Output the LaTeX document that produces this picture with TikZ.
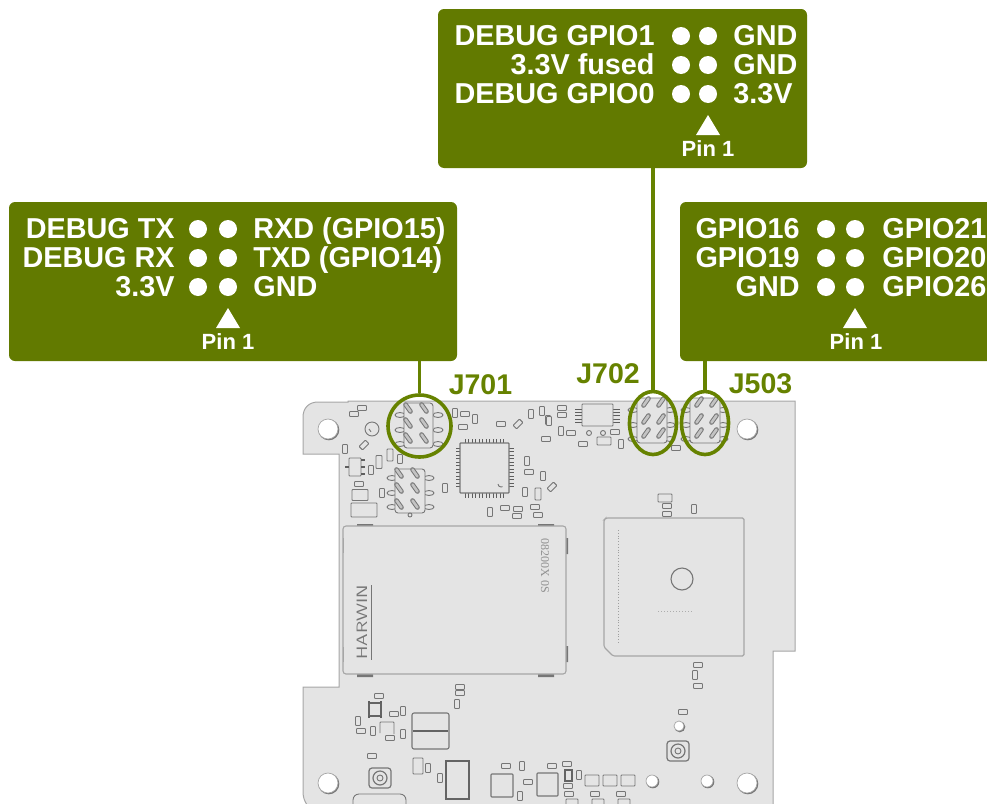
\documentclass[tikz,border=0pt]{standalone}
\usepackage{fontspec}
\setmainfont{Liberation Sans}
\newfontfamily\printserif{Liberation Serif}
\usepackage{xcolor}
\usetikzlibrary{positioning,shapes.geometric}
\definecolor{calloutgreen}{HTML}{627A00}
\definecolor{ringgreen}{HTML}{668200}
\definecolor{boardgray}{HTML}{E4E4E4}
\definecolor{edgegray}{HTML}{A6A6A6}
\definecolor{partgray}{HTML}{767676}

\begin{document}
\begin{tikzpicture}[
  x=1pt,y=-1pt,
  font=\bfseries\fontsize{28.8}{30}\selectfont,
  callout/.style={fill=calloutgreen,rounded corners=6pt,minimum height=159pt,inner sep=0pt},
  pindot/.style={circle,fill=white,minimum size=18pt,inner sep=0pt},
  pinlabel/.style={text=white,inner sep=0pt,text height=19.5pt,text depth=0pt},
  pinone/.style={text=white,inner sep=0pt,font=\bfseries\fontsize{22}{24}\selectfont},
  ring/.style={draw=ringgreen,line width=3.6pt,ellipse,inner sep=0pt},
  lead/.style={draw=ringgreen,line width=3.6pt},
  jname/.style={text=ringgreen,inner sep=0pt,font=\bfseries\fontsize{28.5}{30}\selectfont},
  board/.style={fill=boardgray,draw=edgegray,line width=1pt},
  part/.style={draw=partgray,line width=.9pt,fill=boardgray,rounded corners=.8pt},
  thickpart/.style={draw=partgray!85!black,line width=1.8pt},
  headpin/.style={draw=partgray,double=boardgray!70!partgray,double distance=2.6pt,line width=1pt,line cap=round},
  legpin/.style={draw=partgray!80!black,line width=1.5pt},
  hole/.style={fill=white,draw=edgegray,line width=.7pt},
  hardprint/.style={text=partgray,inner sep=0pt},
]
\useasboundingbox (0,0) rectangle (987,803);
\clip (0,0) rectangle (987,803);

% board
\draw[board] (339,454) -- (303,454) -- (303,417) .. controls (303,408) and (309,402) .. (318,402) -- (348,402) -- (348,401) -- (795,401) -- (795,651) -- (773,651) -- (773,815) -- (318,815) .. controls (309,809) and (303,802) .. (303,792) -- (303,687) -- (339,687) -- cycle;

% mounting holes
\foreach \x/\y/\r in {328/429/10,747/429/10,328/783/10,747/783/10,652/781/6,707/781/6,679/726/5} {
  \fill[partgray] (\x+.8,\y+.8) circle[radius=\r+.5];
  \draw[hole] (\x,\y) circle[radius=\r];
}
\draw[part] (372,429) circle[radius=7];
\draw[part] (372,429) ++(-3,0) arc[start angle=180,end angle=110,radius=3];

% chip resistors, flat and upright
\foreach \x/\y in {362/408,354/414,465/414,463/427,501/424,546/439,529/472,505/508,518/509,517/516,535/507,538/515,359/484,562/408,562/415,571/433,615/432,583/444,676/448,667/506,667/514,379/696,394/714,361/731,390/738,460/687,460/693,372/756,506/766,528/782,698/665,698/686,683/712,552/766,567/764,568/786,569/794,595/794,621/794}
  \draw[part] (\x-4.5,\y-2.5) rectangle (\x+4.5,\y+2.5);
\foreach \x/\y in {455/413,475/419,531/414,542/411,548/420,527/461,543/476,525/492,490/512,445/488,382/493,345/449,400/459,371/470,549/421,561/431,621/444,694/509,403/711,358/721,373/731,403/734,457/704,428/768,440/778,522/766,520/796,695/675,579/775}
  \draw[part] (\x-2.5,\y-4.5) rectangle (\x+2.5,\y+4.5);
\foreach \x/\y/\w/\h in {390/455/3/6,379/462/3/6.5,538/494/3/6,604/441/7/4,665/498/7/4,360/495/8/5.5,364/510/13/7,418/766/5/8}
  \draw[part] (\x-\w,\y-\h) rectangle (\x+\w,\y+\h);
\foreach \x/\y in {518/424,364/445,552/487}
  \draw[part,rotate around={45:(\x,\y)}] (\x-4.5,\y-2.5) rectangle (\x+4.5,\y+2.5);
\foreach \x in {589,603}
  \draw[part] (\x,433) circle[radius=2.5];

% small transistors
\draw[part] (349,458) rectangle (361,476);
\foreach \y in {460,467,474}
  \draw[legpin] (361,\y) -- (365,\y);
\draw[legpin] (349,467) -- (345,467);
\draw[thickpart,line width=1.2pt] (369,703) rectangle (381,716);
\foreach \x in {369,381} {
  \draw[legpin] (\x,703) -- +(0,-2);
  \draw[legpin] (\x,716) -- +(0,2);
}
\draw[part,fill=none] (380,733) -- (380,722) -- (394,722) -- (394,734);
\draw[thickpart,line width=1.2pt] (565,770) rectangle (572,781);
\foreach \x in {592,610,628}
  \draw[part] (\x-7,775) rectangle (\x+7,786);

% unlabelled header
\foreach \y in {478,493,507} {
  \draw[part] (392,\y) ellipse[x radius=5,y radius=2.5];
  \draw[part] (429,\y) ellipse[x radius=5,y radius=2.5];
}
\draw[part,rounded corners=3pt] (395,469) rectangle (425,513);
\foreach \x in {399,415}
  \foreach \y in {473,488,504}
    \draw[headpin] (\x-2.5,\y-3.5) -- (\x+2.5,\y+3.5);
\draw[part] (410,515) circle[radius=2];

% J701 header
\foreach \y in {415,430,444} {
  \draw[part] (400,\y) ellipse[x radius=5,y radius=2.5];
  \draw[part] (438,\y) ellipse[x radius=5,y radius=2.5];
}
\draw[part,rounded corners=3pt] (404,403) rectangle (433,448);
\foreach \x in {408,424}
  \foreach \y in {408,423,438}
    \draw[headpin] (\x-2.5,\y-3.5) -- (\x+2.5,\y+3.5);

% J702 and J503 headers
\foreach \bx/\pa/\pb in {637/646/661,690/699/714} {
  \foreach \y in {410,425,439} {
    \draw[part] (\bx-4,\y) ellipse[x radius=5,y radius=2.5];
    \draw[part] (\bx+33,\y) ellipse[x radius=5,y radius=2.5];
  }
  \draw[part,rounded corners=3pt] (\bx,398) rectangle (\bx+30,443);
  \foreach \x in {\pa,\pb}
    \foreach \y in {402,419,433}
      \draw[headpin] (\x+2.5,\y-3.5) -- (\x-2.5,\y+3.5);
}

% MCU
\foreach \i in {0,...,11} {
  \draw[legpin,line width=1pt] (465+\i*3.5,443) -- +(0,-4.5);
  \draw[legpin,line width=1pt] (465+\i*3.5,493) -- +(0,4.5);
  \draw[legpin,line width=1pt] (460,448+\i*3.5) -- +(-4.5,0);
  \draw[legpin,line width=1pt] (509,448+\i*3.5) -- +(4.5,0);
}
\draw[part,line width=1.2pt] (460,443) rectangle (509,493);
\draw[part,fill=none] (498,484) arc[start angle=180,end angle=60,radius=3];

% flash chip
\foreach \i in {0,...,4} {
  \draw[legpin,line width=1pt] (582,409+\i*3.4) -- +(-7,0);
  \draw[legpin,line width=1pt] (613,409+\i*3.4) -- +(7,0);
}
\draw[part] (582,404) rectangle (613,426);

% module can
\fill[partgray] (357,524) rectangle (373,527) (538,524) rectangle (554,527) (357,674) rectangle (373,677) (538,674) rectangle (554,677);
\fill[partgray] (565,538) rectangle (568,554) (565,646) rectangle (568,662);
\draw[part,rounded corners=3pt,draw=edgegray,line width=1.1pt] (343,526) rectangle (566,674);
\draw[edgegray,line width=1pt] (343,538) -- (343,553) (343,647) -- (343,662);
\node[hardprint,rotate=90,font=\sffamily\mdseries\fontsize{15}{15}\selectfont] (harwin) at (362,622) {\scalebox{1.3}[1]{HARWIN}};
\draw[partgray,line width=.9pt] (371,585) -- (371,660);
\node[hardprint,text=partgray!80,rotate=-90,font=\printserif\mdseries\fontsize{12}{12}\selectfont] (modcode) at (545,566) {08200X 0S};

% radio shield
\draw[part,draw=edgegray,line width=1.1pt,rounded corners=1.5pt] (604,520) -- (606,518) -- (744,518) -- (744,656) -- (613,656) -- (604,647) -- cycle;
\draw[partgray!70,line width=.8pt,dotted] (618,530) -- (618,643);
\draw[part,line width=1.1pt] (682,579) circle[radius=11];
\draw[partgray!60,line width=1pt,dotted] (658,611) -- (692,611);

% coax connectors
\foreach \x/\y in {380/778,678/751} {
  \draw[part,line width=1.2pt,rounded corners=3pt] (\x-11,\y-10) rectangle (\x+11,\y+10);
  \draw[part,line width=1.2pt] (\x,\y) circle[radius=7];
  \draw[part] (\x,\y) circle[radius=3];
}

% bottom edge parts
\draw[part,line width=1.1pt,rounded corners=2pt] (412,713) rectangle (449,749);
\draw[thickpart,line width=1.2pt] (413,731) -- (448,731);
\draw[thickpart,line width=2.2pt] (446,761) rectangle (469,799);
\draw[part,line width=1.1pt] (491,774) rectangle (513,797);
\draw[part,line width=1.1pt] (537,773) rectangle (558,796);
\draw[part,rounded corners=6pt] (353,794) rectangle (406,815);
\foreach \x in {572,598,624}
  \draw[part] (\x-6,799) rectangle (\x+6,810);

% pinout J701
\node[callout,minimum width=448pt] (pinoutleft) at (233,281.5) {};
\foreach \row/\rowy/\lname/\rname in {1/229/DEBUG TX/{RXD (GPIO15)},2/258/DEBUG RX/{TXD (GPIO14)},3/287/3.3V/GND} {
  \node[pindot] (la\row) at (198,\rowy) {};
  \node[pindot] (lb\row) at (228,\rowy) {};
  \node[pinlabel,left=14pt of la\row] (lc\row) {\lname};
  \node[pinlabel,right=16pt of lb\row] (ld\row) {\rname};
}
\fill[white] (216,328) -- (240,328) -- (228,308) -- cycle;
\node[pinone] (lpin) at (228,342) {Pin 1};

% pinout J702
\node[callout,minimum width=369pt] (pinouttop) at (622.5,88.5) {};
\foreach \row/\rowy/\lname/\rname in {1/36/DEBUG GPIO1/GND,2/65/3.3V fused/GND,3/94/DEBUG GPIO0/3.3V} {
  \node[pindot] (ta\row) at (681,\rowy) {};
  \node[pindot] (tb\row) at (708,\rowy) {};
  \node[pinlabel,left=17pt of ta\row] (tc\row) {\lname};
  \node[pinlabel,right=16pt of tb\row] (td\row) {\rname};
}
\fill[white] (696,135) -- (720,135) -- (708,115) -- cycle;
\node[pinone] (tpin) at (708,149) {Pin 1};

% pinout J503
\node[callout,minimum width=340pt] (pinoutright) at (850,281.5) {};
\foreach \row/\rowy/\lname/\rname in {1/229/GPIO16/GPIO21,2/258/GPIO19/GPIO20,3/287/GND/GPIO26} {
  \node[pindot] (ra\row) at (826,\rowy) {};
  \node[pindot] (rb\row) at (855,\rowy) {};
  \node[pinlabel,left=17pt of ra\row] (rc\row) {\lname};
  \node[pinlabel,right=18pt of rb\row] (rd\row) {\rname};
}
\fill[white] (843,328) -- (867,328) -- (855,308) -- cycle;
\node[pinone] (rpin) at (856,342) {Pin 1};

% rings and leads
\node[ring,minimum width=63pt,minimum height=62pt] (ringj701) at (419.5,426) {};
\node[ring,minimum width=47pt,minimum height=63pt] (ringj702) at (653,423) {};
\node[ring,minimum width=47pt,minimum height=63pt] (ringj503) at (705,423) {};
\draw[lead] (ringj701.north) -- (ringj701.north |- pinoutleft.south);
\draw[lead] (ringj702.north) -- (ringj702.north |- pinouttop.south);
\draw[lead] (ringj503.north) -- (ringj503.north |- pinoutright.south);

\node[jname] (jj701) at (480.5,385) {J701};
\node[jname] (jj702) at (608,374) {J702};
\node[jname] (jj503) at (760.5,384) {J503};
\end{tikzpicture}
\end{document}
